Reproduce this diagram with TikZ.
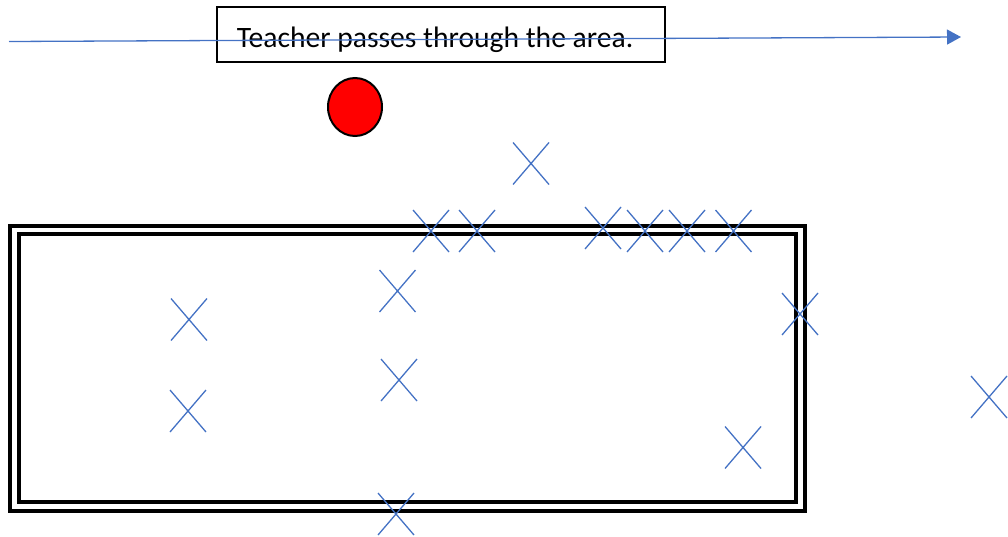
\documentclass[tikz,border=0pt]{standalone}
\usepackage{fontspec}
\setmainfont{Carlito}
\usetikzlibrary{arrows.meta,shapes.misc,shapes.geometric}
\definecolor{xblue}{HTML}{4472C4}
\tikzset{
  xmark/.style={cross out, draw=xblue, line width=1.3pt, minimum width=36pt, minimum height=42pt, inner sep=0pt, outer sep=0pt},
  wall/.style={draw=black, line width=4pt},
  label box/.style={draw=black, line width=1.3pt, minimum width=448pt, minimum height=55pt, inner sep=0pt},
  teacher/.style={ellipse, draw=black, line width=2pt, fill=red, minimum width=54pt, minimum height=58pt, inner sep=0pt},
  path line/.style={draw=xblue, line width=1.3pt, -{Triangle[length=14pt,width=15pt]}}
}
\begin{document}
\begin{tikzpicture}[x=1pt,y=-1pt]
\useasboundingbox (0,0) rectangle (1008,536);
% double wall
\draw[wall] (10,225.5) rectangle (804.5,510.5);
\draw[wall] (18.5,234) rectangle (796,502);
% label box
\node[label box] (lbl) at (441,34.5) {};
\node[anchor=base, inner sep=0pt, font=\fontsize{29.6}{34}\selectfont] (txt) at (435,47.5) {Teacher passes through the area.};
% teacher path
\coordinate (pstart) at (9,41.5);
\coordinate (pend) at (961,37);
\draw[path line] (pstart) -- (pend);
% teacher
\node[teacher] (t) at (355,107) {};
% crosses
\node[xmark] (x1) at (431,231) {};
\node[xmark] (x2) at (477,231) {};
\node[xmark] (x3) at (603,228) {};
\node[xmark] (x4) at (645,231) {};
\node[xmark] (x5) at (687,231) {};
\node[xmark] (x6) at (733.5,231) {};
\node[xmark] (x7) at (531,163.5) {};
\node[xmark] (x8) at (189,319.5) {};
\node[xmark] (x9) at (188,411) {};
\node[xmark] (x10) at (397.5,291) {};
\node[xmark] (x11) at (399,380) {};
\node[xmark] (x12) at (800,314) {};
\node[xmark] (x13) at (989,397) {};
\node[xmark] (x14) at (743,447.5) {};
\node[xmark] (x15) at (396,514) {};
\end{tikzpicture}
\end{document}
